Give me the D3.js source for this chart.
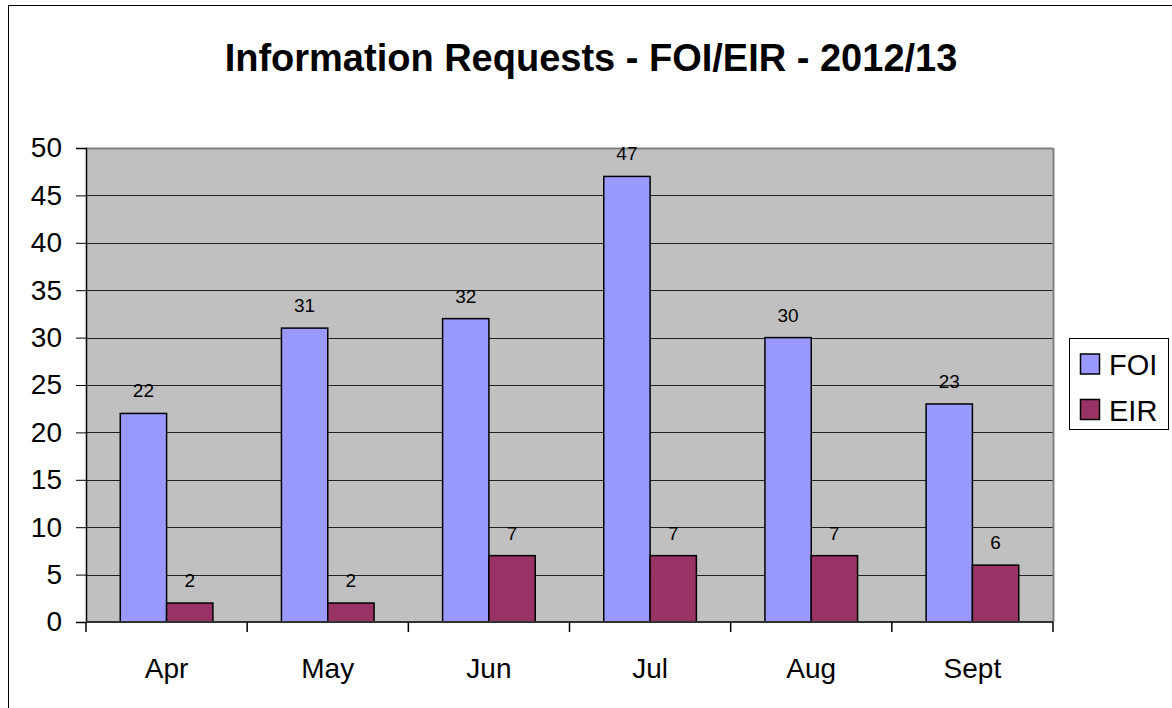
<!DOCTYPE html>
<html><head><meta charset="utf-8">
<script src="https://cdn.jsdelivr.net/npm/d3@7"></script>
<style>body{margin:0;background:#fff;} text{font-family:"Liberation Sans",Arial,sans-serif;}</style>
</head><body>
<svg id="c" width="1172" height="708"></svg>
<script>
const categories = ["Apr","May","Jun","Jul","Aug","Sept"];
const seriesNames = ["FOI","EIR"];
const foiValues = [22,31,32,47,30,23];
const eirValues = [2,2,7,7,7,6];
const yTicks = [0,5,10,15,20,25,30,35,40,45,50];
const title = "Information Requests - FOI/EIR - 2012/13";
const colors = {FOI:"#9999FF", EIR:"#993366"};

const svg = d3.select("#c");
// outer chart border (left/top visible)
svg.append("rect").attr("x",8.5).attr("y",5.5).attr("width",1200).attr("height",800)
  .attr("fill","none").attr("stroke","#000").attr("stroke-width",1);

const L=86, R=1053, T=148, B=622;
const x = d3.scaleBand().domain(categories).range([L,R]).paddingInner(0).paddingOuter(0);
const x1 = d3.scaleBand().domain(seriesNames).range([0,x.bandwidth()]).paddingInner(0).paddingOuter(0.74);
const y = d3.scaleLinear().domain([0,50]).range([B,T]);

// plot background
svg.append("rect").attr("x",L).attr("y",T).attr("width",R-L).attr("height",B-T).attr("fill","#C0C0C0");
// gridlines
svg.append("g").selectAll("line").data(yTicks.filter(d=>d>0)).join("line")
  .attr("x1",L).attr("x2",R).attr("y1",d=>Math.round(y(d))+0.5).attr("y2",d=>Math.round(y(d))+0.5)
  .attr("stroke",d=>d===50?"#808080":"#222").attr("stroke-width",d=>d===50?2:1);
// right border of plot
svg.append("line").attr("x1",R+0.5).attr("x2",R+0.5).attr("y1",T).attr("y2",B).attr("stroke","#808080").attr("stroke-width",2);

// bars
const data = categories.map((c,i)=>({c, vals:[{s:"FOI",v:foiValues[i]},{s:"EIR",v:eirValues[i]}]}));
const g = svg.append("g").selectAll("g").data(data).join("g").attr("transform",d=>`translate(${x(d.c)},0)`);
g.selectAll("rect").data(d=>d.vals).join("rect")
  .attr("x",d=>x1(d.s)).attr("width",x1.bandwidth())
  .attr("y",d=>y(d.v)).attr("height",d=>y(0)-y(d.v))
  .attr("fill",d=>colors[d.s]).attr("stroke","#000").attr("stroke-width",1.5);
g.selectAll("text").data(d=>d.vals).join("text")
  .attr("x",d=>x1(d.s)+x1.bandwidth()/2).attr("y",d=>y(d.v)-16)
  .attr("text-anchor","middle").attr("font-size",19).text(d=>d.v);

// axes
const yAxis = d3.axisLeft(y).tickValues(yTicks).tickSize(10).tickPadding(14);
const ya = svg.append("g").attr("transform",`translate(${L},0)`).call(yAxis);
ya.select(".domain").attr("stroke","#000").attr("stroke-width",1.5);
ya.selectAll("line").attr("stroke","#000");
ya.selectAll("text").attr("font-size",28).attr("fill","#000").attr("font-family","Liberation Sans, Arial, sans-serif");

const xa = svg.append("g").attr("transform",`translate(0,${B})`);
xa.append("line").attr("x1",L).attr("x2",R).attr("y1",0).attr("y2",0).attr("stroke","#333").attr("stroke-width",2);
xa.selectAll("line.t").data(categories.concat(["_end"])).join("line").attr("class","t")
  .attr("x1",d=>d==="_end"?R:x(d)).attr("x2",d=>d==="_end"?R:x(d)).attr("y1",0).attr("y2",10).attr("stroke","#000").attr("stroke-width",1.5);
xa.selectAll("text").data(categories).join("text")
  .attr("x",d=>x(d)+x.bandwidth()/2).attr("y",56).attr("text-anchor","middle").attr("font-size",28).text(d=>d);

// title
svg.append("text").attr("x",591).attr("y",71).attr("text-anchor","middle")
  .attr("font-size",38).attr("font-weight","bold").text(title);

// legend
const lg = svg.append("g");
lg.append("rect").attr("x",1069.5).attr("y",338.5).attr("width",99).attr("height",91)
  .attr("fill","#fff").attr("stroke","#000").attr("stroke-width",1);
seriesNames.forEach((s,i)=>{
  const yy = 354 + i*45.5;
  lg.append("rect").attr("x",1080.5).attr("y",yy).attr("width",19).attr("height",20)
    .attr("fill",colors[s]).attr("stroke","#000").attr("stroke-width",1.5);
  lg.append("text").attr("x",1109).attr("y",yy+21).attr("font-size",29).text(s);
});
</script>
</body></html>
